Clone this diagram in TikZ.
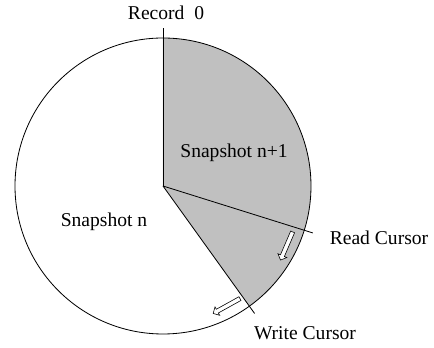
\documentclass[tikz,border=0pt]{standalone}
\usepackage{fontspec}
\setmainfont{Liberation Serif}
\usepackage{tikz}
\usetikzlibrary{shapes.arrows}
\newcommand{\wheelRadius}[0]{148}
\newcommand{\cursorLength}[0]{157}
\newcommand{\readAngle}[0]{-17.4}
\newcommand{\writeAngle}[0]{-54.3}
\definecolor{snapgray}{HTML}{C0C0C0}

\begin{document}
\begin{tikzpicture}[x=0.03cm, y=0.03cm, line width=0.7pt]
  \tikzset{every node/.style={font=\fontsize{16.7}{20}\selectfont, inner sep=0pt},
    cursorarrow/.style={single arrow, draw, fill=white, line width=0.5pt,
      minimum height=0.92cm, minimum width=0.27cm, inner sep=0.055cm,
      single arrow head extend=0.08cm}}
  \useasboundingbox (-163,-162) rectangle (271,186);
  \fill[snapgray] (0,0) -- (90:\wheelRadius) arc (90:\writeAngle:\wheelRadius) -- cycle;
  \draw (0,0) circle (\wheelRadius);
  \coordinate (centre) at (0,0);
  \coordinate (record-end) at (0,158);
  \coordinate (read-end) at (\readAngle:\cursorLength);
  \coordinate (write-end) at (\writeAngle:\cursorLength);
  \draw (centre) -- (record-end);
  \draw (centre) -- (read-end);
  \draw (centre) -- (write-end);
  \node (record) at (3,173) {Record~~0};
  \node (snap-next) at (71,33) {Snapshot n+1};
  \node (snap-now) at (-59,-36) {Snapshot n};
  \node (read) at (216,-52) {Read Cursor};
  \node (write) at (142,-147) {Write Cursor};
  \node[cursorarrow, rotate=-113.2] (read-arrow) at (124,-59) {};
  \node[cursorarrow, rotate=209] (write-arrow) at (64.5,-119.5) {};
\end{tikzpicture}
\end{document}
